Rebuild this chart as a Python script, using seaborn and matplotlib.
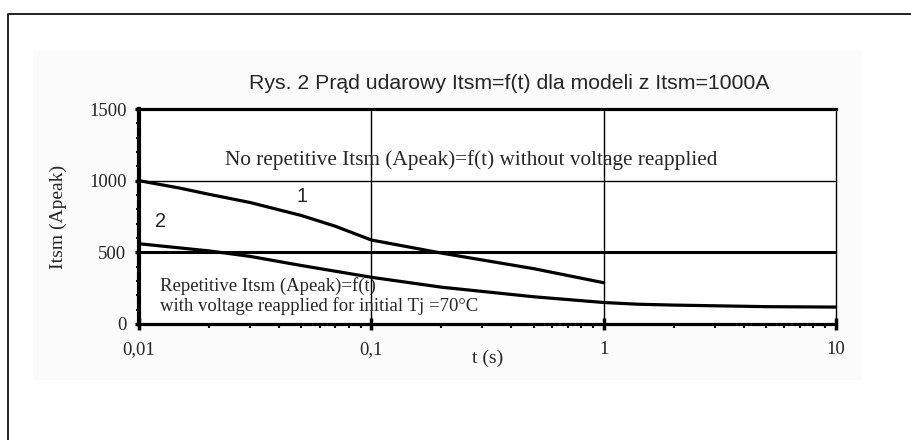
import matplotlib
matplotlib.use("Agg")
import matplotlib.pyplot as plt
import matplotlib.patches as mpatches
import matplotlib.lines as mlines
import matplotlib.ticker as mticker
import seaborn as sns
import pandas as pd
import numpy as np

# ---- data ----
t_curve1 = [0.01, 0.015, 0.02, 0.03, 0.05, 0.07, 0.1, 0.2, 0.5, 1.0]
itsm_curve1 = [1000, 948, 905, 848, 757, 682, 586, 495, 386, 288]
t_curve2 = [0.01, 0.02, 0.03, 0.05, 0.1, 0.2, 0.5, 1.0, 1.4, 2.0, 5.0, 10.0]
itsm_curve2 = [560, 510, 472, 408, 326, 257, 190, 150, 138, 132, 121, 118]
x_tick_values = [0.01, 0.1, 1, 10]
x_tick_labels = ["0,01", "0,1", "1", "10"]
y_tick_values = [0, 500, 1000, 1500]
y_tick_labels = ["0", "500", "1000", "1500"]

title = "Rys. 2 Prąd udarowy Itsm=f(t) dla modeli z Itsm=1000A"
ylabel = "Itsm (Apeak)"
xlabel = "t (s)"
note_top = "No repetitive Itsm (Apeak)=f(t) without voltage reapplied"
note_bottom = "Repetitive Itsm (Apeak)=f(t)\nwith voltage reapplied for initial Tj =70°C"

df = pd.concat([
    pd.DataFrame({"t": t_curve1, "Itsm": itsm_curve1, "curve": "1"}),
    pd.DataFrame({"t": t_curve2, "Itsm": itsm_curve2, "curve": "2"}),
])

sns.set_style("white")
plt.rcParams["font.family"] = ["Liberation Serif", "DejaVu Serif"]

W, H = 912, 440
fig = plt.figure(figsize=(W / 100, H / 100), dpi=100)
fig.patch.set_facecolor("white")

def px(x0, y0, w, h):
    return [x0 / W, 1 - (y0 + h) / H, w / W, h / H]

# light chart-area background
fig.patches.append(mpatches.Rectangle((33 / W, 1 - 380 / H), (862 - 33) / W, (380 - 50) / H,
                                      transform=fig.transFigure, facecolor="#fbfbfb",
                                      edgecolor="none", zorder=-2))
# outer frame: only the left and top edges lie inside the picture
fig.lines.append(mlines.Line2D([8.5 / W, 8.5 / W, 1.0], [0.0, 1 - 14.5 / H, 1 - 14.5 / H],
                               transform=fig.transFigure, color="#222222", linewidth=1.4,
                               zorder=-1))

ax = fig.add_axes(px(139, 109, 697, 215))
ax.set_facecolor("white")

sns.lineplot(data=df, x="t", y="Itsm", hue="curve", palette=["black", "black"],
             linewidth=2.3, legend=False, ax=ax, estimator=None, sort=False)

ax.set_xscale("log")
ax.set_xlim(0.01, 10)
ax.set_ylim(0, 1500)

# grid lines
ax.axhline(1000, color="black", lw=1.0, zorder=1)
ax.axhline(500, color="black", lw=2.2, zorder=1)
for xv in [0.1, 1]:
    ax.axvline(xv, color="black", lw=1.0, zorder=1)

for side, lw in [("left", 3.0), ("top", 2.3), ("bottom", 2.3), ("right", 1.0)]:
    ax.spines[side].set_visible(True)
    ax.spines[side].set_color("black")
    ax.spines[side].set_linewidth(lw)

ax.set_xticks(x_tick_values)
ax.set_xticklabels(x_tick_labels)
ax.xaxis.set_minor_locator(mticker.LogLocator(base=10, subs=np.arange(2, 10)))
ax.xaxis.set_minor_formatter(mticker.NullFormatter())
ax.set_yticks(y_tick_values)
ax.set_yticklabels(y_tick_labels)
ax.yaxis.set_minor_locator(mticker.MultipleLocator(100))

ax.tick_params(axis="x", which="major", direction="inout", length=8, width=2.5,
               labelsize=13.5, pad=8, color="black", bottom=True)
ax.tick_params(axis="x", which="minor", direction="out", length=3, width=1.5,
               color="black", bottom=True)
ax.tick_params(axis="y", which="major", direction="out", length=3, width=2.5,
               labelsize=13.5, pad=6, color="black", left=True)
ax.tick_params(axis="y", which="minor", direction="out", length=2, width=1.5,
               color="black", left=True)

ax.set_xlabel(xlabel, fontsize=14)
ax.xaxis.set_label_coords(0.5, -(358 - 324) / 215)
ax.xaxis.label.set_va("center")
ax.set_ylabel(ylabel, fontsize=14)
ax.yaxis.set_label_coords((58 - 139) / 697, 0.5)
ax.yaxis.label.set_va("center")

fig.text(509 / W, 1 - 89 / H, title, ha="center", va="baseline", fontsize=15.3,
         family=["Liberation Sans", "DejaVu Sans"])

ax.text(0.27, 1144, note_top, ha="center", va="center", fontsize=15.3)
ax.text(0.0502, 888, "1", ha="center", va="center", fontsize=14.4,
        family=["Liberation Sans", "DejaVu Sans"])
ax.text(0.0124, 714, "2", ha="center", va="center", fontsize=14.4,
        family=["Liberation Sans", "DejaVu Sans"])
ax.text(0.0123, 196, note_bottom, ha="left", va="center", fontsize=13.5, linespacing=1.1)

fig.savefig("out.png", dpi=100)
